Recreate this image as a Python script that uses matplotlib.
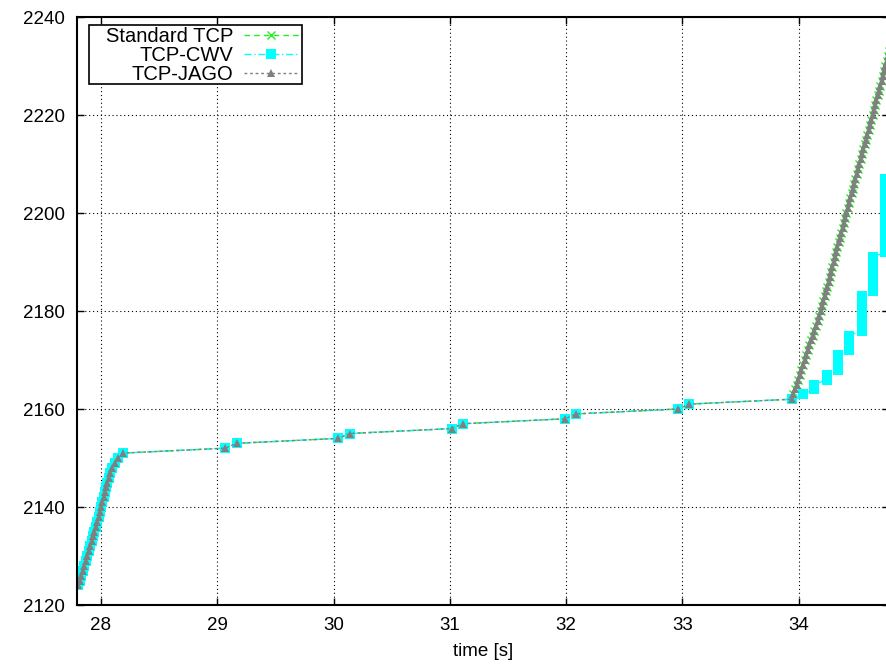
import matplotlib
matplotlib.use("Agg")
import matplotlib.pyplot as plt
from matplotlib.patches import Rectangle

plt.rcParams['font.family'] = ['Liberation Sans', 'DejaVu Sans']

# slow start before the idle period (shared by all three variants)
t_start = [27.800, 27.818, 27.831, 27.844, 27.857, 27.870, 27.883, 27.896,
           27.908, 27.920, 27.932, 27.944, 27.956, 27.968, 27.979, 27.990,
           28.000, 28.011, 28.022, 28.033, 28.044, 28.055, 28.066, 28.077,
           28.095, 28.120, 28.150, 28.190]
seq_start = [2124, 2125, 2126, 2127, 2128, 2129, 2130, 2131, 2132, 2133,
             2134, 2135, 2136, 2137, 2138, 2139, 2140, 2141, 2142, 2143,
             2144, 2145, 2146, 2147, 2148, 2149, 2150, 2151]

# application-limited period, two segments per second
t_mid = [29.066, 29.170, 30.040, 30.140, 31.015, 31.115, 31.990, 32.085,
         32.960, 33.060, 33.940]
seq_mid = [2152, 2153, 2154, 2155, 2156, 2157, 2158, 2159, 2160, 2161, 2162]

# Standard TCP / TCP-JAGO: burst after the idle period
t_burst = [33.954, 33.968, 33.981, 33.995, 34.009, 34.022, 34.036, 34.050,
           34.064, 34.078, 34.092, 34.106, 34.120, 34.134, 34.148, 34.162,
           34.176, 34.190, 34.201, 34.212, 34.223, 34.234, 34.245, 34.256,
           34.267, 34.278, 34.289, 34.300, 34.311, 34.322, 34.333, 34.344,
           34.355, 34.366, 34.377, 34.388, 34.399, 34.410, 34.421, 34.432,
           34.443, 34.454, 34.465, 34.476, 34.487, 34.498, 34.509, 34.520,
           34.532, 34.543, 34.555, 34.566, 34.578, 34.589, 34.601, 34.612,
           34.624, 34.635, 34.646, 34.657, 34.668, 34.679, 34.690, 34.701,
           34.712, 34.723, 34.734, 34.745, 34.756, 34.767, 34.779, 34.790]
seq_burst = [2163, 2164, 2165, 2166, 2167, 2168, 2169, 2170, 2171, 2172,
             2173, 2174, 2175, 2176, 2177, 2178, 2179, 2180, 2181, 2182,
             2183, 2184, 2185, 2186, 2187, 2188, 2189, 2190, 2191, 2192,
             2193, 2194, 2195, 2196, 2197, 2198, 2199, 2200, 2201, 2202,
             2203, 2204, 2205, 2206, 2207, 2208, 2209, 2210, 2211, 2212,
             2213, 2214, 2215, 2216, 2217, 2218, 2219, 2220, 2221, 2222,
             2223, 2224, 2225, 2226, 2227, 2228, 2229, 2230, 2231, 2232,
             2233, 2234]

# TCP-CWV: restarts slow start once per RTT
t_cwv = [34.040,
         34.135, 34.135,
         34.240, 34.240,
         34.340, 34.340, 34.340, 34.340,
         34.435, 34.435, 34.435, 34.435,
         34.540, 34.540, 34.540, 34.540, 34.540, 34.540, 34.540, 34.540,
         34.640, 34.640, 34.640, 34.640, 34.640, 34.640, 34.640, 34.640,
         34.740, 34.740, 34.740, 34.740, 34.740, 34.740, 34.740, 34.740,
         34.740, 34.740, 34.740, 34.740, 34.740, 34.740, 34.740, 34.740]
seq_cwv = [2163,
           2164, 2165,
           2166, 2167,
           2168, 2169, 2170, 2171,
           2172, 2173, 2174, 2175,
           2176, 2177, 2178, 2179, 2180, 2181, 2182, 2183,
           2184, 2185, 2186, 2187, 2188, 2189, 2190, 2191,
           2192, 2193, 2194, 2195, 2196, 2197, 2198, 2199,
           2200, 2201, 2202, 2203, 2204, 2205, 2206, 2207]

x_std = t_start + t_mid + t_burst
y_std = seq_start + seq_mid + seq_burst
x_cwv = t_start + t_mid + t_cwv
y_cwv = seq_start + seq_mid + seq_cwv

fig = plt.figure(figsize=(8.87, 6.65), dpi=100)
# right edge of the plot box lies just outside the image, like the original
ax = fig.add_axes([77 / 887, 60 / 665, 812 / 887, 588 / 665])

ax.plot(x_std, y_std, color='#22ee22', linestyle=(0, (4, 3)), linewidth=1,
        marker='x', markersize=6, markeredgewidth=1, label='Standard TCP')
ax.plot(x_cwv, y_cwv, color='#00ffff', linestyle=(0, (5, 2, 1, 2)), linewidth=1,
        marker='s', markersize=6.5, markeredgewidth=0, label='TCP-CWV')
ax.plot(x_std, y_std, color='#808080', linestyle=(0, (2, 2)), linewidth=1,
        marker='^', markersize=6, markeredgewidth=0, label='TCP-JAGO')

ax.set_xlim(27.794, 34.776)
ax.set_ylim(2120, 2240)
ax.set_xticks([28, 29, 30, 31, 32, 33, 34])
ax.set_yticks([2120, 2140, 2160, 2180, 2200, 2220, 2240])

ax.grid(True, color='black', linestyle=(0, (1, 2.5)), linewidth=0.8)
ax.tick_params(direction='in', length=5, width=1, labelsize=13.5,
               top=True, right=True, pad=9)
for s in ax.spines.values():
    s.set_linewidth(1.5)

ax.set_xlabel('time [s]', fontsize=13.5, labelpad=6)

# gnuplot-style key: labels right-aligned, sample after the label
box_w = 213 / 812
box_h = 59 / 588
box_x = 12 / 812
box_top = 1 - 8 / 588
leg = ax.legend(loc='upper right', bbox_to_anchor=(box_x + box_w, box_top + 1 / 588),
                borderaxespad=0, markerfirst=False, frameon=False,
                fontsize=14.5, handlelength=2.75, handletextpad=0.5,
                labelspacing=0.0, borderpad=0.15)
ax.add_patch(Rectangle((box_x, box_top - box_h), box_w, box_h,
                       transform=ax.transAxes, fill=True, facecolor='white',
                       edgecolor='black', linewidth=1.2, zorder=4.9))
leg.set_zorder(5)

fig.savefig('out.png', dpi=100)
